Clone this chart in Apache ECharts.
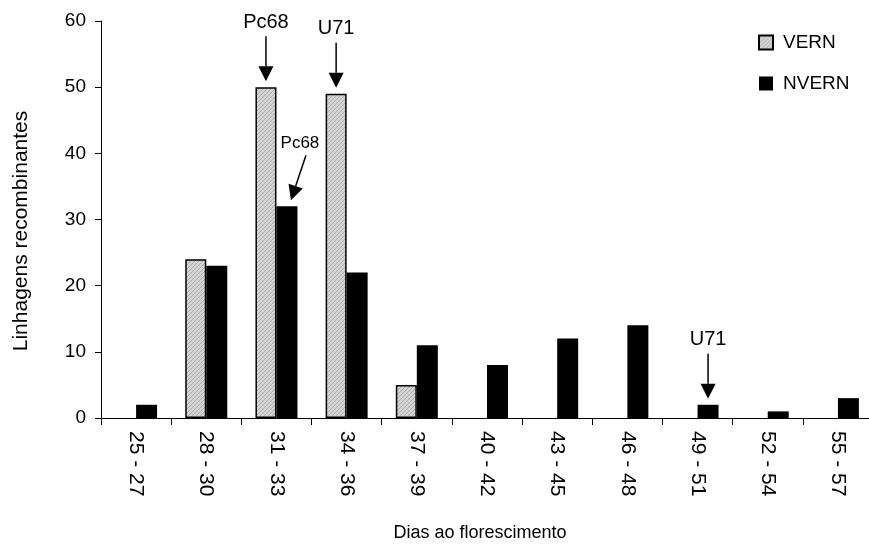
<!DOCTYPE html>
<html>
<head>
<meta charset="utf-8">
<script src="https://cdn.jsdelivr.net/npm/echarts@6/dist/echarts.min.js"></script>
<style>
html,body{margin:0;padding:0;background:#fff;}
#chart{width:869px;height:544px;}
</style>
</head>
<body>
<div id="chart"></div>
<script>
const categories = ['25 - 27','28 - 30','31 - 33','34 - 36','37 - 39','40 - 42','43 - 45','46 - 48','49 - 51','52 - 54','55 - 57'];
const vernValues = [0, 24, 50, 49, 5, 0, 0, 0, 0, 0, 0];
const nvernValues = [2, 23, 32, 22, 11, 8, 12, 14, 2, 1, 3];
const yTicks = [0, 10, 20, 30, 40, 50, 60];
const xTitle = 'Dias ao florescimento';
const yTitle = 'Linhagens recombinantes';
// annotations: label, series index (0 VERN, 1 NVERN), category, style
const annotations = [
  { label: 'Pc68', series: 0, category: '31 - 33', kind: 'vertical' },
  { label: 'U71', series: 0, category: '34 - 36', kind: 'vertical' },
  { label: 'Pc68', series: 1, category: '31 - 33', kind: 'diagonal' },
  { label: 'U71', series: 1, category: '49 - 51', kind: 'vertical' }
];

const FONT = 'Liberation Sans, Arial, sans-serif';

// hatched gray pattern
const pc = document.createElement('canvas');
pc.width = 4; pc.height = 4;
const g = pc.getContext('2d');
g.fillStyle = '#d4d4d4';
g.fillRect(0, 0, 4, 4);
g.fillStyle = '#ababab';
for (let i = 0; i < 4; i++) { g.fillRect(i, 3 - i, 1, 1); }

const chart = echarts.init(document.getElementById('chart'));
const BAR_W = 21;

function barData(values, border) {
  return values.map(function (v) {
    return v === 0 ? { value: v, itemStyle: { borderWidth: 0 } } : { value: v, itemStyle: { borderWidth: border } };
  });
}

const option = {
  animation: false,
  backgroundColor: '#fff',
  grid: { left: 101, top: 21, width: 772, height: 397, containLabel: false, outerBoundsMode: 'none' },
  legend: {
    orient: 'vertical',
    left: 753, top: 28,
    itemWidth: 14, itemHeight: 14, itemGap: 22,
    icon: 'rect',
    textStyle: { fontFamily: FONT, fontSize: 19, color: '#000', padding: [0, 0, 0, 5] },
    data: ['VERN', 'NVERN']
  },
  xAxis: {
    type: 'category',
    data: categories,
    name: xTitle,
    nameLocation: 'middle',
    nameGap: 106,
    nameTextStyle: { fontFamily: FONT, fontSize: 18, color: '#000', padding: [0, 14, 0, 0] },
    axisLine: { lineStyle: { color: '#000', width: 1 } },
    axisTick: { show: true, alignWithLabel: false, length: 7, lineStyle: { color: '#000' } },
    axisLabel: { rotate: -90, fontFamily: FONT, fontSize: 21, color: '#000', margin: 13, interval: 0 }
  },
  yAxis: {
    type: 'value',
    min: 0, max: 60, interval: 10,
    axisLine: { show: true, lineStyle: { color: '#000', width: 1 } },
    axisTick: { show: true, length: 6, lineStyle: { color: '#000' } },
    splitLine: { show: false },
    axisLabel: { fontFamily: FONT, fontSize: 19, color: '#000', margin: 15,
      formatter: function (v) { return yTicks.indexOf(v) >= 0 ? String(v) : ''; } }
  },
  series: [
    {
      name: 'VERN', type: 'bar', data: barData(vernValues, 1.5),
      barWidth: BAR_W, barGap: '0%',
      itemStyle: { color: { image: pc, repeat: 'repeat' }, borderColor: '#000', borderWidth: 1.5 }
    },
    {
      name: 'NVERN', type: 'bar', data: barData(nvernValues, 0),
      barWidth: BAR_W, barGap: '0%',
      itemStyle: { color: '#000', borderColor: '#000', borderWidth: 0 }
    }
  ]
};
chart.setOption(option);

function arrow(x1, y1, x2, y2) {
  const dx = x2 - x1, dy = y2 - y1;
  const len = Math.sqrt(dx * dx + dy * dy);
  const ux = dx / len, uy = dy / len;
  const hl = 15, hw = 7.5;
  const bx = x2 - ux * hl, by = y2 - uy * hl;
  return [
    { type: 'line', shape: { x1: x1, y1: y1, x2: bx, y2: by }, style: { stroke: '#000', lineWidth: 1.5 }, silent: true },
    { type: 'polygon', shape: { points: [[x2, y2], [bx - uy * hw, by + ux * hw], [bx + uy * hw, by - ux * hw]] }, style: { fill: '#000' }, silent: true }
  ];
}

const graphics = [];
// y-axis title
graphics.push({ type: 'text', x: 21, y: 231, rotation: Math.PI / 2, silent: true,
  style: { text: yTitle, fontFamily: FONT, fontSize: 21, fill: '#000', align: 'center', verticalAlign: 'middle' } });

annotations.forEach(function (a) {
  const idx = categories.indexOf(a.category);
  const val = (a.series === 0 ? vernValues : nvernValues)[idx];
  const cx = chart.convertToPixel({ xAxisIndex: 0 }, a.category);
  const barX = cx + (a.series === 0 ? -BAR_W / 2 : BAR_W / 2);
  const topY = chart.convertToPixel({ yAxisIndex: 0 }, val);
  if (a.kind === 'vertical') {
    const tipY = topY - 6;
    graphics.push.apply(graphics, arrow(barX, tipY - 45, barX, tipY));
    graphics.push({ type: 'text', x: barX, y: tipY - 59, silent: true,
      style: { text: a.label, fontFamily: FONT, fontSize: 20, fill: '#000', align: 'center', verticalAlign: 'middle' } });
  } else {
    const tipX = barX + 4, tipY = topY - 6;
    graphics.push.apply(graphics, arrow(tipX + 15, tipY - 45, tipX, tipY));
    graphics.push({ type: 'text', x: tipX + 9, y: tipY - 57, silent: true,
      style: { text: a.label, fontFamily: FONT, fontSize: 17, fill: '#000', align: 'center', verticalAlign: 'middle' } });
  }
});
chart.setOption({ graphic: graphics });
</script>
</body>
</html>
